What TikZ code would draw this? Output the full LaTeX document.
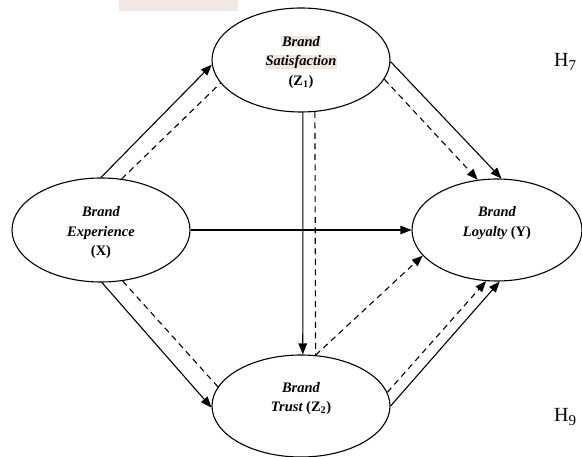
\documentclass[tikz,border=0pt]{standalone}
\usepackage{fontspec}
\setmainfont{Liberation Serif}
\usetikzlibrary{arrows.meta,shapes.geometric}
\definecolor{hl}{RGB}{242,232,227}
\newcommand{\hlt}[1]{{\setlength{\fboxsep}{0.6pt}\colorbox{hl}{#1}}}
\newcommand{\elltext}[2]{\smash{\raisebox{#1}{\begin{tabular}{@{}c@{}}#2\end{tabular}}}}
\begin{document}
\begin{tikzpicture}[x=1pt,y=-1pt,
  var/.style={draw, ellipse, line width=1.1pt, inner sep=0pt,
    font=\fontsize{14.5}{19.5}\selectfont\bfseries\itshape},
  solidarr/.style={line width=1.1pt, -{Triangle[length=11pt,width=8.5pt]}},
  dasharr/.style={line width=1.1pt, dash pattern=on 6pt off 4.5pt, -{Triangle[length=11pt,width=8.5pt]}},
  dashline/.style={line width=1.1pt, dash pattern=on 6pt off 4.5pt},
  hyp/.style={font=\fontsize{20}{20}\selectfont, inner sep=0pt}
]
\useasboundingbox (0,0) rectangle (582,457);
\fill[hl] (119,0) rectangle (238,11);

\node[var, minimum width=178pt, minimum height=104pt] (Z1) at (301,60)
  {\elltext{-5.5pt}{\hlt{Brand}\\ \hlt{Satisfaction}\\ \upshape(Z\textsubscript{1})}};
\node[var, minimum width=178pt, minimum height=104pt] (X) at (101,230)
  {\elltext{-5.8pt}{Brand\\ Experience\\ \upshape(X)}};
\node[var, minimum width=170pt, minimum height=102pt] (Y) at (497,230)
  {\elltext{4pt}{Brand\\ Loyalty {\upshape(Y)}}};
\node[var, minimum width=178pt, minimum height=102pt] (Z2) at (301,406)
  {\elltext{4.5pt}{Brand\\ Trust {\upshape(Z\textsubscript{2})}}};

\node[hyp, anchor=west] (H7) at (554,62) {H\raisebox{-3.5pt}{\fontsize{15}{15}\selectfont 7}};
\node[hyp, anchor=west] (H9) at (554,417) {H\raisebox{-3.5pt}{\fontsize{15}{15}\selectfont 9}};

\draw[solidarr] (X.90) -- (Z1.183);
\draw[dashline] (X.68) -- (Z1.196);
\draw[solidarr] (Z1.-1) -- (Y.85);
\draw[dasharr] (Z1.-13) -- (Y.111);
\draw[solidarr] (X.east) -- (Y.west);
\draw[solidarr] (Z1.-88) -- (Z2.88);
\draw[dashline] (Z1.-75) -- (Z2.74);
\draw[dasharr] (Z2.74) -- (Y.199);
\draw[solidarr] (X.-89) -- (Z2.181);
\draw[dashline] (X.-67) -- (Z2.167);
\draw[solidarr] (Z2.0) -- (Y.-87);
\draw[dasharr] (Z2.9) -- (Y.-102);
\end{tikzpicture}
\end{document}
